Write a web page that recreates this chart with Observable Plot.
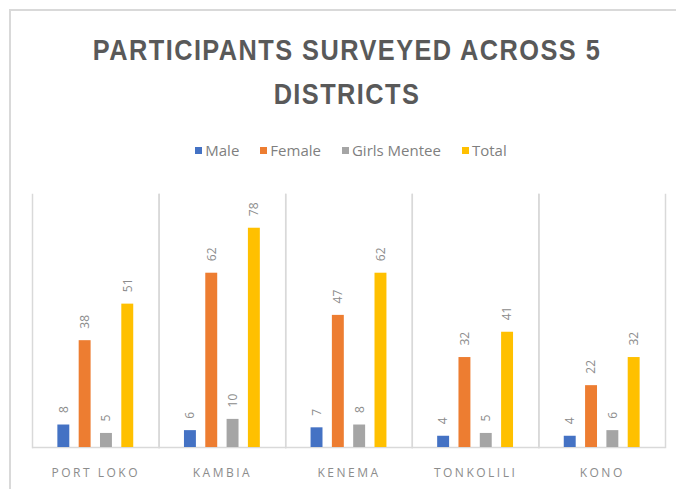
<!DOCTYPE html>
<html>
<head>
<meta charset="utf-8">
<script src="https://cdn.jsdelivr.net/npm/d3@7"></script>
<script src="https://cdn.jsdelivr.net/npm/@observablehq/plot@0.6"></script>
<style>
  html, body { margin: 0; padding: 0; background: #fff; width: 676px; height: 489px; overflow: hidden; }
  #frame { position: absolute; left: 9px; top: 9px; width: 700px; height: 490px; border: 2px solid #d9d9d9; box-sizing: border-box; }
  #title { position: absolute; left: 0; top: 28px; width: 694px; text-align: center; font-family: "Liberation Sans", sans-serif; font-weight: bold; font-size: 30px; line-height: 44px; letter-spacing: 1.7px; color: #595959; transform: scaleX(0.845); transform-origin: 347px 0; }
  #legend { position: absolute; left: 0; top: 140px; width: 702px; display: flex; justify-content: center; gap: 21px; font-family: "Open Sans", sans-serif; font-size: 15px; line-height: 20px; color: #7f7f7f; }
  #legend span.item { display: flex; align-items: center; gap: 3px; }
  #legend span.sw { display: inline-block; width: 7px; height: 7px; }
  #chart { position: absolute; left: 0; top: 180px; }
  #chart svg { overflow: visible; }
  #chart g[aria-label="fx-axis tick label"] text, #chart g[aria-label="fx-axis"] text { letter-spacing: 2.5px; }
</style>
</head>
<body>
<div id="frame"></div>
<div id="title">PARTICIPANTS SURVEYED ACROSS 5<br>DISTRICTS</div>
<div id="legend"></div>
<div id="chart"></div>
<script>
const districts = ["PORT LOKO", "KAMBIA", "KENEMA", "TONKOLILI", "KONO"];
const series = ["Male", "Female", "Girls Mentee", "Total"];
const male = [8, 6, 7, 4, 4];
const female = [38, 62, 47, 32, 22];
const girlsMentee = [5, 10, 8, 5, 6];
const total = [51, 78, 62, 41, 32];
const colors = ["#4472C4", "#ED7D31", "#A5A5A5", "#FFC000"];

const valuesBySeries = [male, female, girlsMentee, total];
const rows = [];
districts.forEach((d, i) => {
  series.forEach((s, j) => {
    rows.push({district: d, series: s, value: valuesBySeries[j][i]});
  });
});

// legend
const legend = document.getElementById("legend");
series.forEach((s, j) => {
  const item = document.createElement("span");
  item.className = "item";
  const sw = document.createElement("span");
  sw.className = "sw";
  sw.style.background = colors[j];
  const t = document.createElement("span");
  t.textContent = s;
  item.appendChild(sw);
  item.appendChild(t);
  legend.appendChild(item);
});

const grid = "#d9d9d9";
const chart = Plot.plot({
  width: 676,
  height: 307,
  marginTop: 14,
  marginBottom: 40,
  marginLeft: 32,
  marginRight: 11,
  style: {fontFamily: "'Open Sans', sans-serif", fontSize: "12px", color: "#8c8c8c", background: "transparent"},
  fx: {domain: districts, padding: 0, round: false, label: null, tickSize: 0, tickPadding: 21, axis: "bottom"},
  x: {domain: series, paddingInner: 0.44, paddingOuter: 1.19, round: false, axis: null},
  y: {domain: [0, 90], axis: null},
  color: {domain: series, range: colors},
  marks: [
    Plot.frame({anchor: "left", stroke: grid, strokeWidth: 1.5}),
    Plot.frame({anchor: "right", stroke: grid, strokeWidth: 1.5}),
    Plot.ruleY([0], {stroke: grid, strokeWidth: 1.5}),
    Plot.barY(rows, {fx: "district", x: "series", y: "value", fill: "series"}),
    Plot.text(rows, {fx: "district", x: "series", y: "value", text: d => String(d.value),
      rotate: -90, textAnchor: "start", dy: -12, fill: "#8c8c8c", fontSize: 12,
      style: "letter-spacing:1px"})
  ]
});
document.getElementById("chart").appendChild(chart);
</script>
</body>
</html>
